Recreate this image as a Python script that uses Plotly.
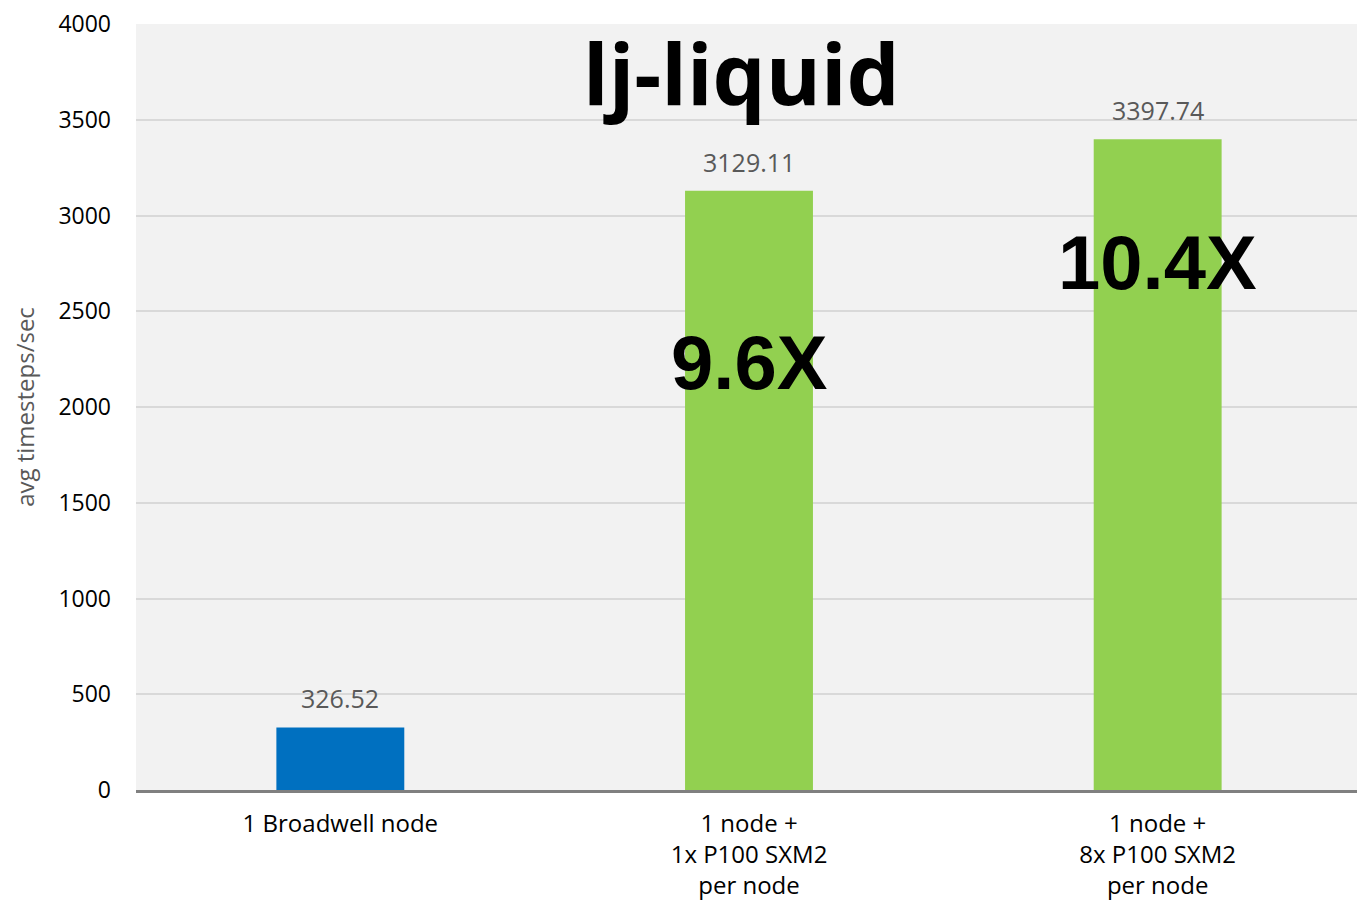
import plotly.graph_objects as go

categories = ["1 Broadwell node", "1 node +<br>1x P100 SXM2<br>per node", "1 node +<br>8x P100 SXM2<br>per node"]
values = [326.52, 3129.11, 3397.74]
value_labels = ["326.52", "3129.11", "3397.74"]
bar_colors = ["#0070C0", "#92D050", "#92D050"]
speedup_labels = ["", "9.6X", "10.4X"]
speedup_y = [None, 2235, 2757]
y_ticks = [0, 500, 1000, 1500, 2000, 2500, 3000, 3500, 4000]

FONT = "'Open Sans', 'Noto Sans', sans-serif"

fig = go.Figure()
fig.add_trace(go.Bar(
    x=categories, y=values, marker_color=bar_colors, marker_line_width=0,
    width=0.313, hoverinfo="skip",
))

for c, v, t in zip(categories, values, value_labels):
    fig.add_annotation(x=c, y=v, text=t, showarrow=False, yanchor="bottom", yshift=10,
                       font=dict(family=FONT, size=25, color="#595959"))

for c, t, yy in zip(categories, speedup_labels, speedup_y):
    if t:
        fig.add_annotation(x=c, y=yy, text="<b>" + t + "</b>", showarrow=False,
                           xanchor="center", yanchor="middle",
                           font=dict(family="'Liberation Sans', Arial, sans-serif", size=76, color="#000000"))

fig.add_annotation(xref="paper", yref="paper", x=0.494, y=0.937, text="<b>lj-liquid</b>",
                   showarrow=False, xanchor="center", yanchor="middle",
                   font=dict(family=FONT, size=84, color="#000000"))

# page body has 8px margin, so the figure is shifted by 8px; compensate
fig.update_layout(
    width=1357, height=892,
    margin=dict(l=128, r=3, t=16, b=110, autoexpand=False),
    paper_bgcolor="#FFFFFF", plot_bgcolor="#F2F2F2",
    showlegend=False,
    font=dict(family=FONT, color="#000000"),
)
fig.update_xaxes(
    showline=True, linecolor="#808080", linewidth=3, ticks="",
    tickfont=dict(family=FONT, size=24, color="#000000"),
    ticklabelstandoff=10, showgrid=False,
)
fig.update_yaxes(
    range=[0, 4000], tickvals=y_ticks, ticktext=[str(v) for v in y_ticks],
    showgrid=True, gridcolor="#D9D9D9", gridwidth=1.5, zeroline=False,
    showline=False, ticks="", ticklabeloverflow="allow",
    tickfont=dict(family=FONT, size=23, color="#000000"),
    ticklabelstandoff=24,
    title=dict(text="avg timesteps/sec", standoff=18,
               font=dict(family=FONT, size=24, color="#595959")),
)

fig.write_html("out.html")
